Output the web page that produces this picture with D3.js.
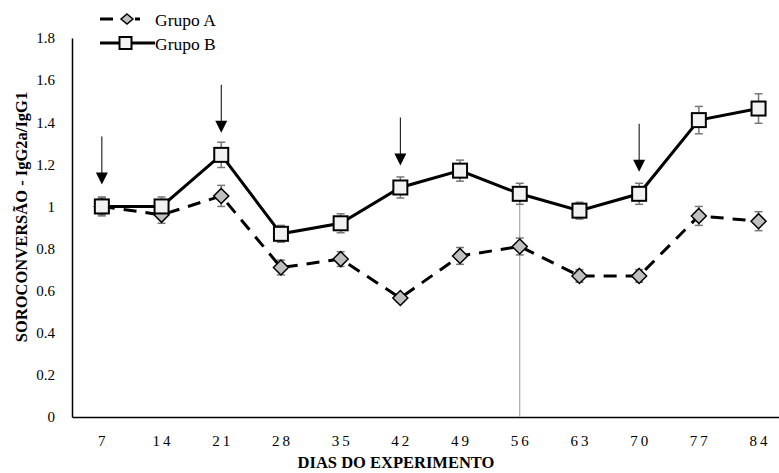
<!DOCTYPE html>
<html><head><meta charset="utf-8">
<script src="https://cdn.jsdelivr.net/npm/d3@7"></script>
<style>body{margin:0;background:#fff}svg{display:block}
svg text{font-family:"Liberation Serif","Times New Roman","DejaVu Serif",serif !important;}
</style>
</head><body>
<svg id="c" width="779" height="473"></svg>
<script>
const days = ["7","14","21","28","35","42","49","56","63","70","77","84"];
const grupoA = [1.0,0.96,1.05,0.71,0.75,0.565,0.765,0.81,0.67,0.67,0.955,0.93];
const errA   = [0.04,0.04,0.05,0.035,0.035,0.02,0.04,0.04,0.03,0.03,0.045,0.045];
const grupoB = [1.0,1.0,1.245,0.87,0.92,1.09,1.17,1.06,0.98,1.06,1.41,1.465];
const errB   = [0.045,0.045,0.06,0.04,0.045,0.05,0.05,0.05,0.04,0.05,0.065,0.07];
const arrowDays = ["7","21","42","70"];
const refDay = "56";
const yTicks = [0,0.2,0.4,0.6,0.8,1,1.2,1.4,1.6,1.8];

const svg = d3.select("#c");
const x = d3.scaleBand().domain(days).range([72, 72 + 12*59.7]).padding(0);
const y = d3.scaleLinear().domain([0,1.8]).range([417,38]);
const cx = d => x(d) + x.bandwidth()/2;
const font = "Liberation Serif";

// axes
const yAx = svg.append("g").attr("transform","translate(72,0)")
  .call(d3.axisLeft(y).tickValues(yTicks).tickSize(0).tickPadding(17).tickFormat(d=>d3.format("")(d)));
yAx.select(".domain").attr("stroke","#000").attr("stroke-width",1.5);
yAx.selectAll("text").attr("font-family",font).attr("font-size",15).attr("fill","#000");

const xAx = svg.append("g").attr("transform","translate(0,417)")
  .call(d3.axisBottom(x).tickSize(0));
xAx.select(".domain").attr("stroke","#000").attr("stroke-width",1.5);
xAx.selectAll("text").attr("font-family",font).attr("font-size",15).attr("fill","#000")
  .attr("letter-spacing","3px").attr("y",29).attr("dy",0).attr("dx",1.5);

// reference line
svg.append("line").attr("x1",cx(refDay)).attr("x2",cx(refDay))
  .attr("y1",y(grupoB[days.indexOf(refDay)])).attr("y2",y(0))
  .attr("stroke","#999").attr("stroke-width",1);

// titles
svg.append("text").attr("transform","translate(27,217) rotate(-90)").attr("text-anchor","middle")
  .attr("font-family",font).attr("font-weight","bold").attr("font-size",16.5).text("SOROCONVERSÃO - IgG2a/IgG1");
svg.append("text").attr("x",396).attr("y",468).attr("text-anchor","middle")
  .attr("font-family",font).attr("font-weight","bold").attr("font-size",16.5).text("DIAS DO EXPERIMENTO");

const line = d3.line().x((d,i)=>cx(days[i])).y(d=>y(d));
svg.append("path").attr("d",line(grupoA)).attr("fill","none").attr("stroke","#000")
  .attr("stroke-width",3).attr("stroke-dasharray","13,9");
svg.append("path").attr("d",line(grupoB)).attr("fill","none").attr("stroke","#000").attr("stroke-width",3);

function errBars(vals, errs){
  const g = svg.append("g").attr("stroke","#777").attr("stroke-width",1.5);
  vals.forEach((v,i)=>{
    const X = cx(days[i]);
    g.append("line").attr("x1",X).attr("x2",X).attr("y1",y(v+errs[i])).attr("y2",y(v-errs[i]));
    g.append("line").attr("x1",X-4).attr("x2",X+4).attr("y1",y(v+errs[i])).attr("y2",y(v+errs[i]));
    g.append("line").attr("x1",X-4).attr("x2",X+4).attr("y1",y(v-errs[i])).attr("y2",y(v-errs[i]));
  });
}
errBars(grupoA, errA);
errBars(grupoB, errB);

function diamond(g, X, Y, rx, ry){
  return g.append("path").attr("d",`M${X},${Y-ry}L${X+rx},${Y}L${X},${Y+ry}L${X-rx},${Y}Z`)
    .attr("fill","#bfbfbf").attr("stroke","#000").attr("stroke-width",1.5);
}
function square(g, X, Y, s){
  return g.append("rect").attr("x",X-s/2).attr("y",Y-s/2).attr("width",s).attr("height",s)
    .attr("fill","#f2f2f2").attr("stroke","#000").attr("stroke-width",2);
}
const mA = svg.append("g");
grupoA.forEach((v,i)=>diamond(mA, cx(days[i]), y(v), 7.5, 7.5));
const mB = svg.append("g");
grupoB.forEach((v,i)=>square(mB, cx(days[i]), y(v), 14));

// arrows
arrowDays.forEach(dd=>{
  const i = days.indexOf(dd);
  const X = cx(dd);
  const tip = y(grupoB[i]) - 22;
  svg.append("line").attr("x1",X).attr("x2",X).attr("y1",tip-48).attr("y2",tip-10)
    .attr("stroke","#000").attr("stroke-width",1);
  svg.append("path").attr("d",`M${X-6},${tip-12}L${X+6},${tip-12}L${X},${tip}Z`).attr("fill","#000");
});

// legend
const lg = svg.append("g");
lg.append("line").attr("x1",100).attr("x2",140).attr("y1",19).attr("y2",19)
  .attr("stroke","#000").attr("stroke-width",3).attr("stroke-dasharray","13,22,5");
diamond(lg,127,19,6,5);
lg.append("text").attr("x",155).attr("y",26).attr("font-family",font).attr("font-size",17.5).text("Grupo A");
lg.append("line").attr("x1",100).attr("x2",155).attr("y1",43).attr("y2",43)
  .attr("stroke","#000").attr("stroke-width",3);
square(lg,125.5,43,12);
lg.append("text").attr("x",155).attr("y",50).attr("font-family",font).attr("font-size",17.5).text("Grupo B");
</script>
</body></html>
